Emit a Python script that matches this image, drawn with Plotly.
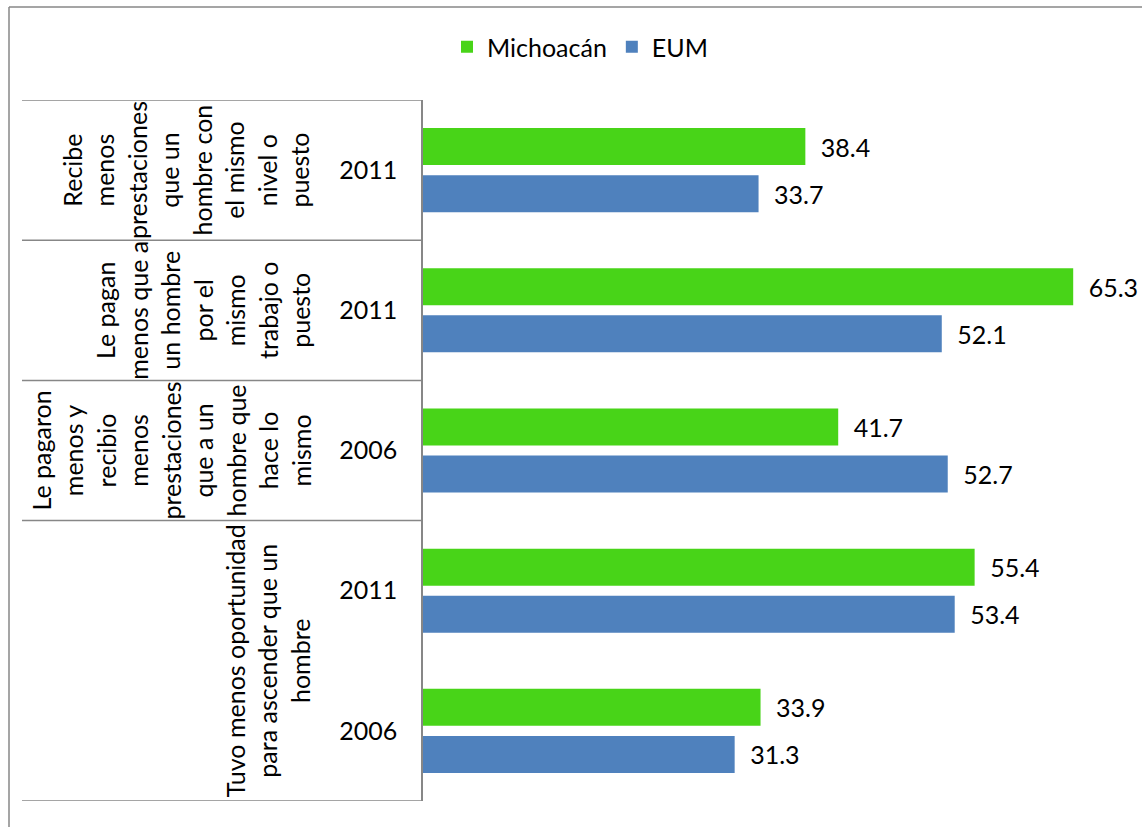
import plotly.graph_objects as go

# ---------------- data ----------------
group_labels = [
    "Recibe<br>menos<br>prestaciones<br>que un<br>hombre con<br>el mismo<br>nivel o<br>puesto",
    "Le pagan<br>menos que a<br>un hombre<br>por el<br>mismo<br>trabajo o<br>puesto",
    "Le pagaron<br>menos y<br>recibio<br>menos<br>prestaciones<br>que a un<br>hombre que<br>hace lo<br>mismo",
    "Tuvo menos oportunidad<br>para ascender que un<br>hombre",
]
group_of_row = [0, 1, 2, 3, 3]
years = ["2011", "2011", "2006", "2011", "2006"]
michoacan = [38.4, 65.3, 41.7, 55.4, 33.9]
eum = [33.7, 52.1, 52.7, 53.4, 31.3]
series_names = ["Michoacán", "EUM"]

# ---------------- layout constants ----------------
W, H = 1142, 827
ML, MR, MT, MB = 423, 22, 100, 26
PW, PH = W - ML - MR, H - MT - MB
FONT = "Lato"
FS = 25
GRAY = "#878787"
GREEN = "#48D418"
BLUE = "#4F81BD"


def px_x(px):
    return (px - ML) / PW


def px_y(py):
    return (H - MB - py) / PH


rows = list(range(len(years)))

fig = go.Figure()
for name, vals, col, off in [(series_names[0], michoacan, GREEN, -0.3),
                             (series_names[1], eum, BLUE, 0.036)]:
    fig.add_trace(go.Bar(
        name=name, y=rows, x=vals, orientation="h",
        marker=dict(color=col, line=dict(width=0)),
        width=0.264, offset=off,
        texttemplate="\u2002%{x:.1f}", textposition="outside",
        cliponaxis=False, constraintext="none",
        textfont=dict(family=FONT, size=FS, color="#000000"),
        hoverinfo="skip",
    ))

shapes = []
# category table lines (at group boundaries)
bounds = [-0.5]
for i in range(1, len(rows)):
    if group_of_row[i] != group_of_row[i - 1]:
        bounds.append(i - 0.5)
bounds.append(len(rows) - 0.5)
for b in bounds:
    shapes.append(dict(type="line", xref="paper", yref="y", x0=px_x(22), x1=0,
                       y0=b, y1=b, line=dict(color=GRAY, width=1.5)))
# outer chart frame (left and top, runs off the image)
shapes.append(dict(type="line", xref="paper", yref="paper", x0=px_x(9), x1=px_x(9),
                   y0=px_y(7), y1=px_y(H + 10), line=dict(color=GRAY, width=1.5)))
shapes.append(dict(type="line", xref="paper", yref="paper", x0=px_x(9), x1=px_x(W + 10),
                   y0=px_y(7), y1=px_y(7), line=dict(color=GRAY, width=1.5)))

annotations = []
for g, lab in enumerate(group_labels):
    ys = [r for r in rows if group_of_row[r] == g]
    annotations.append(dict(
        text=lab, xref="paper", yref="y", x=px_x(317), y=sum(ys) / len(ys),
        xanchor="right", yanchor="middle", textangle=-90, align="center",
        showarrow=False, font=dict(family=FONT, size=FS, color="#000000"),
    ))

fig.update_layout(
    width=W, height=H,
    margin=dict(l=ML, r=MR, t=MT, b=MB, autoexpand=False),
    paper_bgcolor="white", plot_bgcolor="white",
    barmode="overlay",
    font=dict(family=FONT, size=FS, color="#000000"),
    showlegend=True,
    legend=dict(orientation="h", xref="container", yref="container",
                x=580 / W, xanchor="center", y=1 - 47 / H, yanchor="middle",
                font=dict(family=FONT, size=FS, color="#000000"),
                itemwidth=30, traceorder="normal", bgcolor="rgba(0,0,0,0)"),
    xaxis=dict(range=[0, 70], visible=False, fixedrange=True),
    yaxis=dict(range=[len(rows) - 0.5, -0.5], tickvals=rows, ticktext=years,
               showline=True, linecolor=GRAY, linewidth=1.5, ticks="",
               showgrid=False, zeroline=False, ticklabelstandoff=19,
               tickfont=dict(family=FONT, size=FS, color="#000000"),
               automargin=False, fixedrange=True),
    shapes=shapes, annotations=annotations,
)

fig.write_html("out.html")
